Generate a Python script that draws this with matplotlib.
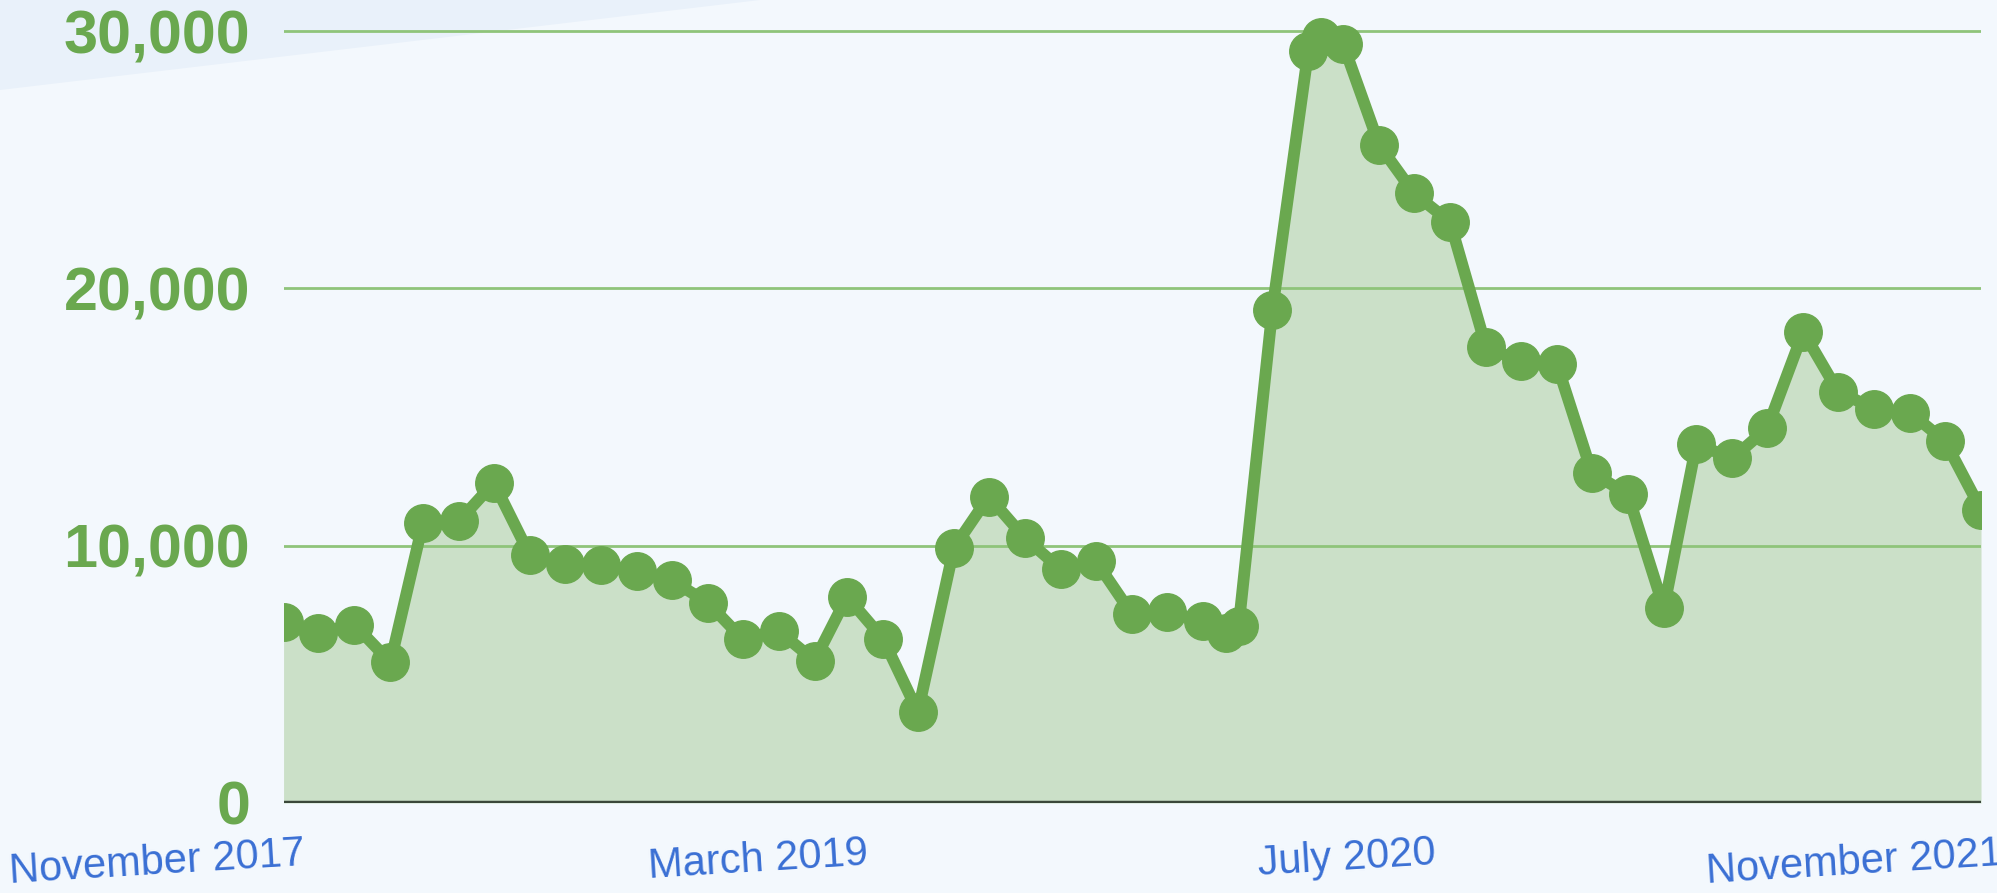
import numpy as np
import pandas as pd
import matplotlib
matplotlib.use('Agg')
import matplotlib.pyplot as plt
from matplotlib.transforms import ScaledTranslation
from matplotlib.patches import Polygon

# monthly values, Nov 2017 .. Nov 2021
months = pd.date_range('2017-11-01', '2021-11-01', freq='MS')
monthly = [7050, 6600, 6930, 5470, 10890, 10960, 12440, 9630, 9300, 9250,
           9010, 8650, 7790, 6380, 6690, 5535, 8015, 6380, 3540, 9920,
           11910, 10300, 9080, 9410, 7350, 7420, 7085, 6860, 19150, 29225,
           29490, 25570, 23690, 22580, 17710, 17160, 17050, 12840, 12000, 7570,
           13950, 13390, 14570, 18310, 15990, 15320, 15170, 14060, 11400]
# two extra mid-month readings
extra_dates = pd.to_datetime(['2020-01-21', '2020-04-12'])
extra_values = [6600, 29780]

tick_dates = pd.to_datetime(['2017-11-01', '2019-03-01', '2020-07-01', '2021-11-01'])
tick_labels = ['November 2017', 'March 2019', 'July 2020', 'November 2021']
y_ticks = [0, 10000, 20000, 30000]
y_labels = ['0', '10,000', '20,000', '30,000']

s = pd.Series(list(monthly) + list(extra_values),
              index=list(months) + list(extra_dates)).sort_index()

bg = '#f3f8fd'
green = '#6aa84f'

fig = plt.figure(figsize=(19.97, 8.93), dpi=100)
fig.patch.set_facecolor(bg)
# faint swoosh in the top-left corner (behind everything)
fig.patches.append(Polygon([[0, 1], [0, 1 - 90/893], [760/1997, 1]], closed=True,
                           transform=fig.transFigure, facecolor='#e9f1fa',
                           edgecolor='none', zorder=-5))

ax = fig.add_axes([0.142, 0.1008, 0.850, 0.8933])
ax.set_facecolor('none')
ax.set_zorder(2)

ax.fill_between(s.index, s.values, 0, color='#cbe0c8', lw=0, zorder=1)
ax.plot(s.index, s.values, color=green, lw=8.5, marker='o', ms=27,
        solid_joinstyle='round', solid_capstyle='round', zorder=3)

ax.set_xlim(months[0], months[-1])
ax.set_ylim(0, 31000)

for v in y_ticks[1:]:
    ax.axhline(v, color='#8fc47a', lw=2, zorder=2)
ax.axhline(0, color='#3a473a', lw=3.2, zorder=4)

for side in ['top', 'right', 'left', 'bottom']:
    ax.spines[side].set_visible(False)

ax.set_yticks(y_ticks)
ax.set_yticklabels(y_labels, fontsize=44, fontweight='bold', color=green,
                   family='Liberation Sans')
ax.tick_params(axis='y', length=0, pad=24)

ax.set_xticks(tick_dates)
ax.set_xticklabels(tick_labels, fontsize=30, color='#3a6fd4', family='Liberation Sans',
                   rotation=3.5, ha='right', va='top', rotation_mode='anchor')
ax.tick_params(axis='x', length=0, pad=22)
for lbl in ax.get_xticklabels():
    lbl.set_transform(lbl.get_transform() + ScaledTranslation(0.2, 0, fig.dpi_scale_trans))

plt.savefig('out.png', dpi=100, facecolor=bg)
